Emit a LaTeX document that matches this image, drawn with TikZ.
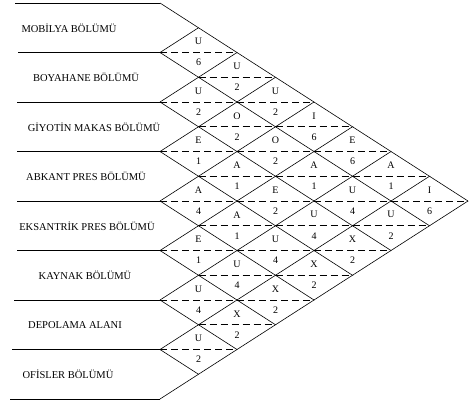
\documentclass[tikz,border=0pt]{standalone}
\usepackage{fontspec}
\setmainfont{Liberation Serif}
\usetikzlibrary{calc}
\tikzset{
	relline/.style={line width=0.6pt},
	reldash/.style={line width=0.6pt, dash pattern=on 7pt off 4pt},
	deptlabel/.style={font=\fontsize{10.5}{12}\selectfont, inner sep=0pt},
	relcode/.style={font=\fontsize{10}{12}\selectfont, inner sep=0pt}
}
\def\hw{38.5}
\def\hh{24.75}
\def\xl{160}

\begin{document}
\begin{tikzpicture}[x=1pt,y=-1pt]
	\useasboundingbox (0,0) rectangle (469,405);
	% row boundaries
	\foreach \k/\xa in {0/15,1/18,2/17,3/17,4/17,5/17,6/14,7/12,8/10}{
		\coordinate (B\k) at (\xl,{3+2*\hh*\k});
		\coordinate (L\k) at (\xa,{3+2*\hh*\k});
		\draw[relline] (L\k) -- (B\k);
	}
	% diagonals of the grid
	\foreach \k in {0,...,7}{\draw[relline] (B\k) -- ++({(8-\k)*\hw},{(8-\k)*\hh});}
	\foreach \k in {1,...,8}{\draw[relline] (B\k) -- ++({\k*\hw},{-\k*\hh});}
	% departments
	\foreach \k/\xc/\t in {1/69/MOBİLYA BÖLÜMÜ, 2/86/BOYAHANE BÖLÜMÜ, 3/94/GİYOTİN MAKAS BÖLÜMÜ,
		4/86/ABKANT PRES BÖLÜMÜ, 5/87/EKSANTRİK PRES BÖLÜMÜ, 6/85/KAYNAK BÖLÜMÜ,
		7/75/DEPOLAMA ALANI, 8/68/OFİSLER BÖLÜMÜ}{
		\node[deptlabel] (d\k) at (\xc,{3+(2*\k-1)*\hh}) {\t};
	}
	% relationship codes
	\foreach \i/\j/\c/\n in {1/2/U/6, 1/3/U/2, 1/4/U/2, 1/5/I/6, 1/6/E/6, 1/7/A/1, 1/8/I/6,
		2/3/U/2, 2/4/O/2, 2/5/O/2, 2/6/A/1, 2/7/U/4, 2/8/U/2,
		3/4/E/1, 3/5/A/1, 3/6/E/2, 3/7/U/4, 3/8/X/2,
		4/5/A/4, 4/6/A/1, 4/7/U/4, 4/8/X/2,
		5/6/E/1, 5/7/U/4, 5/8/X/2,
		6/7/U/4, 6/8/X/2,
		7/8/U/2}{
		\coordinate (m\i\j) at ({\xl+(\j-\i)*\hw},{3+(\i+\j-1)*\hh});
		\draw[reldash] ($(m\i\j)+(-\hw,0)$) -- ($(m\i\j)+(\hw,0)$);
		\node[relcode] (c\i\j) at ($(m\i\j)+(0,-11)$) {\c};
		\node[relcode] (n\i\j) at ($(m\i\j)+(0,10)$) {\n};
	}
\end{tikzpicture}
\end{document}
